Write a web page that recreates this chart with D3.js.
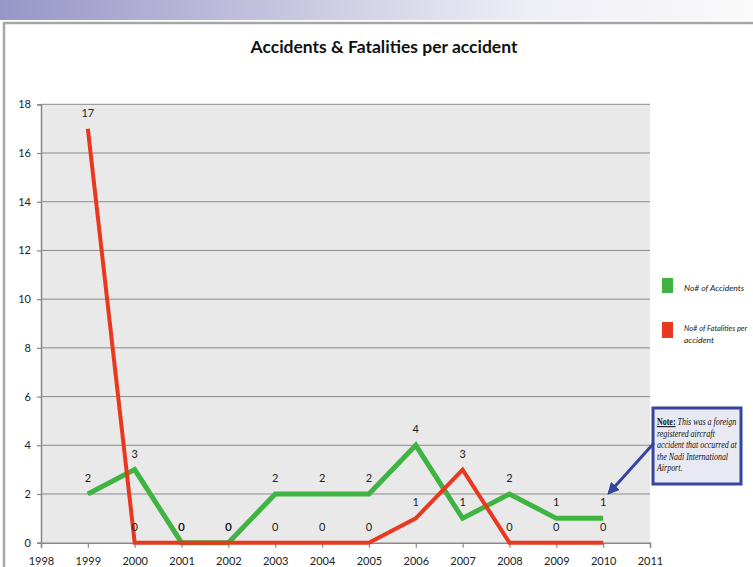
<!DOCTYPE html>
<html>
<head>
<meta charset="utf-8">
<script src="https://cdn.jsdelivr.net/npm/d3@7"></script>
<style>
  body { margin: 0; background: #fff; }
  svg { display: block; }
</style>
</head>
<body>
<svg id="chart" width="753" height="567"></svg>
<script>
// data
const years = [1999, 2000, 2001, 2002, 2003, 2004, 2005, 2006, 2007, 2008, 2009, 2010];
const accidents = [2, 3, 0, 0, 2, 2, 2, 4, 1, 2, 1, 1];
const fatalities = [17, 0, 0, 0, 0, 0, 0, 1, 3, 0, 0, 0];
const xTicks = [1998, 1999, 2000, 2001, 2002, 2003, 2004, 2005, 2006, 2007, 2008, 2009, 2010, 2011];
const yTicks = [0, 2, 4, 6, 8, 10, 12, 14, 16, 18];
const legendLines = [["No# of Accidents"], ["No# of Fatalities per", "accident"]];
const noteLines = ["This was a foreign", "registered aircraft", "accident that occurred at", "the Nadi International", "Airport."];

const green = "#3fb443";
const red = "#e8381f";
const blue = "#34449f";

const svg = d3.select("#chart");

// top banner gradient
const defs = svg.append("defs");
const grad = defs.append("linearGradient").attr("id", "band");
grad.append("stop").attr("offset", "0%").attr("stop-color", "#9896c6");
grad.append("stop").attr("offset", "70%").attr("stop-color", "#eeeef6");
grad.append("stop").attr("offset", "100%").attr("stop-color", "#fafafa");
svg.append("rect").attr("x", 0).attr("y", 0).attr("width", 753).attr("height", 20).attr("fill", "url(#band)");

// frame
svg.append("path")
    .attr("d", "M4,567 V23 H753")
    .attr("fill", "none").attr("stroke", "#a6a6a6").attr("stroke-width", 2.5);

const x = d3.scaleLinear().domain([1998, 2011]).range([41, 650]);
const y = d3.scaleLinear().domain([0, 18]).range([542.7, 104.3]);

// plot background
svg.append("rect")
    .attr("x", x(1998)).attr("y", y(18))
    .attr("width", x(2011) - x(1998)).attr("height", y(0) - y(18))
    .attr("fill", "#e9e9e9");

// gridlines
svg.append("g").selectAll("line").data(yTicks.filter(d => d > 0)).join("line")
    .attr("x1", x(1998)).attr("x2", x(2011))
    .attr("y1", d => y(d)).attr("y2", d => y(d))
    .attr("stroke", "#8a8a8a").attr("stroke-width", 1);

// axes
const yAxis = svg.append("g")
    .attr("transform", `translate(${x(1998)},0)`)
    .call(d3.axisLeft(y).tickValues(yTicks).tickSize(4).tickPadding(6));
const xAxis = svg.append("g")
    .attr("transform", `translate(0,${y(0)})`)
    .call(d3.axisBottom(x).tickValues(xTicks).tickFormat(d3.format("d")).tickSize(5).tickPadding(10));
[yAxis, xAxis].forEach(g => {
    g.select(".domain").attr("stroke", "#888").attr("stroke-width", 1.5);
    g.selectAll(".tick line").attr("stroke", "#888").attr("stroke-width", 1.2);
    g.selectAll("text").attr("fill", "#222").style("font-family", "Lato, sans-serif").style("font-size", "11px");
});

// title
svg.append("text")
    .attr("x", 384).attr("y", 53)
    .attr("text-anchor", "middle")
    .style("font-family", "Lato, sans-serif").style("font-size", "17.5px").style("font-weight", "bold")
    .attr("fill", "#111")
    .text("Accidents & Fatalities per accident");

// lines
const line = d3.line().x(d => x(d[0])).y(d => y(d[1]));
const series = [
    { values: accidents, color: green, width: 5 },
    { values: fatalities, color: red, width: 4 }
];
series.forEach(s => {
    const pts = years.map((yr, i) => [yr, s.values[i]]);
    svg.append("path")
        .attr("d", line(pts))
        .attr("fill", "none")
        .attr("stroke", s.color)
        .attr("stroke-width", s.width)
        .attr("stroke-linejoin", "miter");
});

// data labels
series.forEach(s => {
    svg.append("g").selectAll("text").data(years.map((yr, i) => [yr, s.values[i]])).join("text")
        .attr("x", d => x(d[0]))
        .attr("y", d => y(d[1]) - 12)
        .attr("text-anchor", "middle")
        .style("font-family", "Lato, sans-serif").style("font-size", "11px")
        .attr("fill", "#222")
        .text(d => d[1]);
});

// legend
const leg = svg.append("g").style("font-family", "Lato, sans-serif").style("font-size", "8.5px").style("font-style", "italic");
leg.append("rect").attr("x", 662).attr("y", 278).attr("width", 11).attr("height", 15).attr("fill", green);
leg.append("text").attr("x", 684).attr("y", 291).attr("fill", "#222").text(legendLines[0][0]);
leg.append("rect").attr("x", 662).attr("y", 322).attr("width", 11).attr("height", 16).attr("fill", red);
leg.append("text").attr("x", 684).attr("y", 331).attr("fill", "#222").text(legendLines[1][0])
    .attr("textLength", 63).attr("lengthAdjust", "spacingAndGlyphs");
leg.append("text").attr("x", 684).attr("y", 343).attr("fill", "#222").text(legendLines[1][1]);

// note box
svg.append("rect")
    .attr("x", 653).attr("y", 408).attr("width", 88).attr("height", 76)
    .attr("fill", "#e9e9f4").attr("stroke", blue).attr("stroke-width", 3);
const noteG = svg.append("g")
    .style("font-family", "'Liberation Serif', serif").style("font-size", "10.5px")
    .attr("fill", "#111");
const noteTexts = [];
const first = noteG.append("text").attr("x", 0).attr("y", 425);
first.append("tspan").style("text-decoration", "underline").style("font-weight", "bold").text("Note:");
first.append("tspan").style("font-style", "italic").text(" " + noteLines[0]);
noteTexts.push(first);
noteLines.slice(1).forEach((t, i) => {
    noteTexts.push(noteG.append("text").attr("x", 0).attr("y", 437 + i * 11.5)
        .style("font-style", "italic").text(t));
});
// squeeze the note horizontally so the longest line fits the box
const widest = d3.max(noteTexts, t => t.node().getComputedTextLength());
const sx = 80 / widest;
noteG.attr("transform", `translate(657,0) scale(${sx},1)`);

// arrow
defs.append("marker").attr("id", "arrow")
    .attr("viewBox", "0 0 10 10").attr("refX", 8).attr("refY", 5)
    .attr("markerWidth", 4).attr("markerHeight", 4).attr("orient", "auto")
    .append("path").attr("d", "M0,0 L10,5 L0,10 z").attr("fill", blue);
svg.append("line")
    .attr("x1", 654).attr("y1", 443).attr("x2", 609).attr("y2", 493)
    .attr("stroke", blue).attr("stroke-width", 3)
    .attr("marker-end", "url(#arrow)");
</script>
</body>
</html>
